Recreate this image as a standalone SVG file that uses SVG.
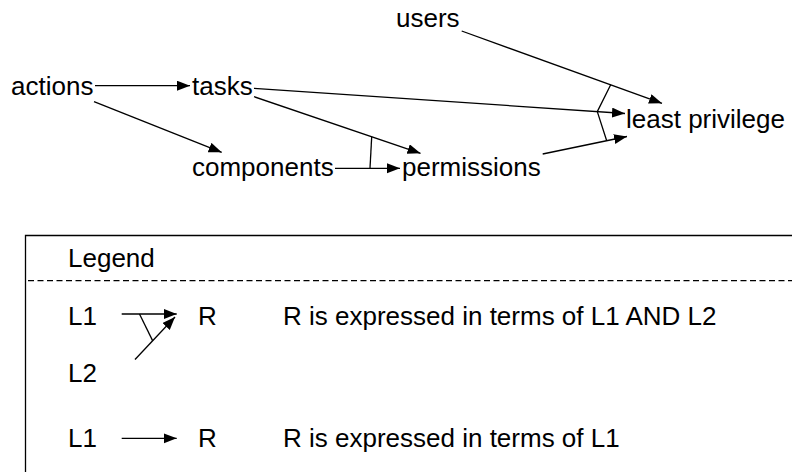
<svg xmlns="http://www.w3.org/2000/svg" width="792" height="472" viewBox="0 0 792 472">
  <style>
    text { font-family: "Liberation Sans", Arial, Helvetica, sans-serif; font-size: 26px; fill: #000; }
    .edge { stroke: #000; stroke-width: 1.3; fill: none; }
    .arrow { marker-end: url(#head); }
    .frame { stroke: #000; stroke-width: 1.3; fill: none; }
    .divider { stroke: #000; stroke-width: 1.2; stroke-dasharray: 6 3.5; fill: none; }
  </style>
  <defs>
    <marker id="head" markerUnits="userSpaceOnUse" markerWidth="14" markerHeight="11" refX="13" refY="5" orient="auto">
      <path d="M0,0 L13,5 L0,10 Z" fill="#000"/>
    </marker>
  </defs>
  <rect width="792" height="472" fill="#fff"/>

  <!-- concept nodes -->
  <g id="node-users"><text x="396" y="27">users</text></g>
  <g id="node-actions"><text x="11" y="95">actions</text></g>
  <g id="node-tasks"><text x="192" y="95">tasks</text></g>
  <g id="node-components"><text x="192" y="176">components</text></g>
  <g id="node-permissions"><text x="402" y="175.5">permissions</text></g>
  <g id="node-least-privilege"><text x="626" y="128">least privilege</text></g>

  <!-- dependency arrows and AND bars -->
  <g id="connectors">
    <line class="edge arrow" x1="95" y1="85.7" x2="190" y2="85.7"/>
    <line class="edge arrow" x1="94" y1="101.7" x2="221.7" y2="152.3"/>
    <line class="edge arrow" x1="335" y1="168.3" x2="400" y2="168.3"/>
    <line class="edge arrow" x1="254" y1="96.7" x2="420.5" y2="153.3"/>
    <line class="edge arrow" x1="254" y1="88.3" x2="625" y2="113.5"/>
    <line class="edge arrow" x1="461.7" y1="31" x2="662" y2="103.3"/>
    <line class="edge arrow" x1="542.7" y1="154" x2="627" y2="136.5"/>
    <!-- AND: tasks + components -> permissions -->
    <line class="edge" x1="371.7" y1="136.6" x2="370" y2="168.3"/>
    <!-- AND: users + tasks + permissions -> least privilege -->
    <polyline class="edge" points="610.7,84.8 597.3,111.6 606.7,140.8"/>
  </g>

  <!-- legend -->
  <g id="legend">
    <path class="frame" d="M25.5,480 V235.5 H800"/>
    <text x="68" y="267">Legend</text>
    <line class="divider" x1="28" y1="280.7" x2="792" y2="280.7"/>

    <text x="68" y="325">L1</text>
    <text x="68" y="382">L2</text>
    <line class="edge arrow" x1="121.7" y1="314" x2="176.7" y2="314"/>
    <line class="edge arrow" x1="135" y1="359.5" x2="175" y2="317"/>
    <line class="edge" x1="139.5" y1="314" x2="152.6" y2="340.6"/>
    <text x="198" y="325">R</text>
    <text x="283" y="325">R is expressed in terms of L1 AND L2</text>

    <text x="68" y="447">L1</text>
    <line class="edge arrow" x1="121.7" y1="438.3" x2="176.7" y2="438.3"/>
    <text x="198" y="447">R</text>
    <text x="283" y="447">R is expressed in terms of L1</text>
  </g>
</svg>
